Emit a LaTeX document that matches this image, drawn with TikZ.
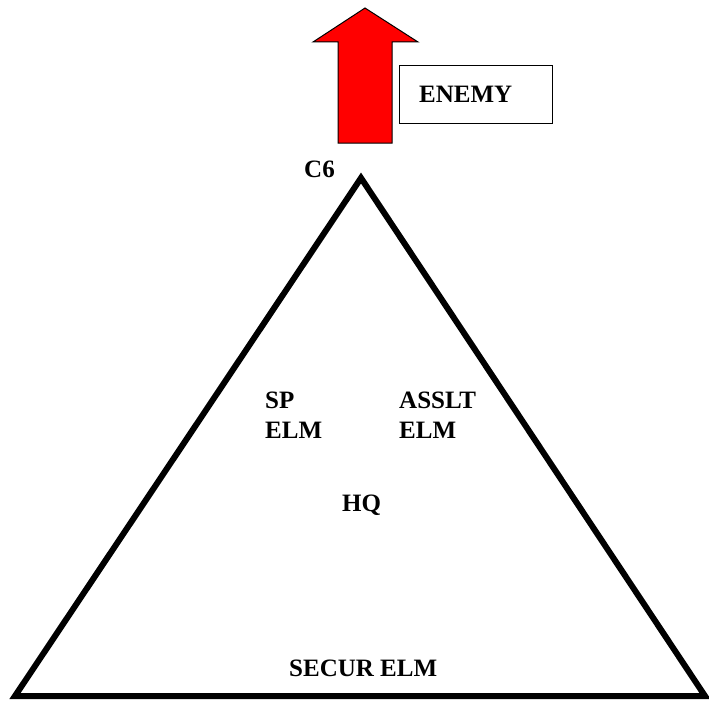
\documentclass[tikz,border=0pt]{standalone}
\usepackage{fontspec}
\setmainfont{Liberation Serif}
\begin{document}
\begin{tikzpicture}[x=1pt,y=-1pt,
  lbl/.style={inner sep=0pt,font=\bfseries\fontsize{25}{29.5}\selectfont,align=left},
  tri/.style={draw=black,line width=6pt,miter limit=10},
  upar/.style={fill=red,draw=black,line width=1pt,line join=miter},
  ebox/.style={draw=black,line width=1pt,fill=white}]
\useasboundingbox (0,0) rectangle (709,701);
% triangle
\draw[tri] (361,178) -- (705,696) -- (15,696) -- cycle;
% arrow
\draw[upar] (365,8) -- (418,42) -- (392,42) -- (392,143) -- (338,143) -- (338,42) -- (313,42) -- cycle;
% enemy box
\draw[ebox] (399,66) rectangle (552,123);
\node[lbl,anchor=base west] (enemy) at (419,102) {ENEMY};
\node[lbl,anchor=base west] (c6) at (304,177) {C6};
\node[lbl,anchor=north west] (sp) at (265,392) {SP\\ELM};
\node[lbl,anchor=north west] (asslt) at (399,392) {ASSLT\\ELM};
\node[lbl,anchor=base west] (hq) at (342,511) {HQ};
\node[lbl,anchor=base west] (secur) at (289,676) {SECUR ELM};
\end{tikzpicture}
\end{document}
